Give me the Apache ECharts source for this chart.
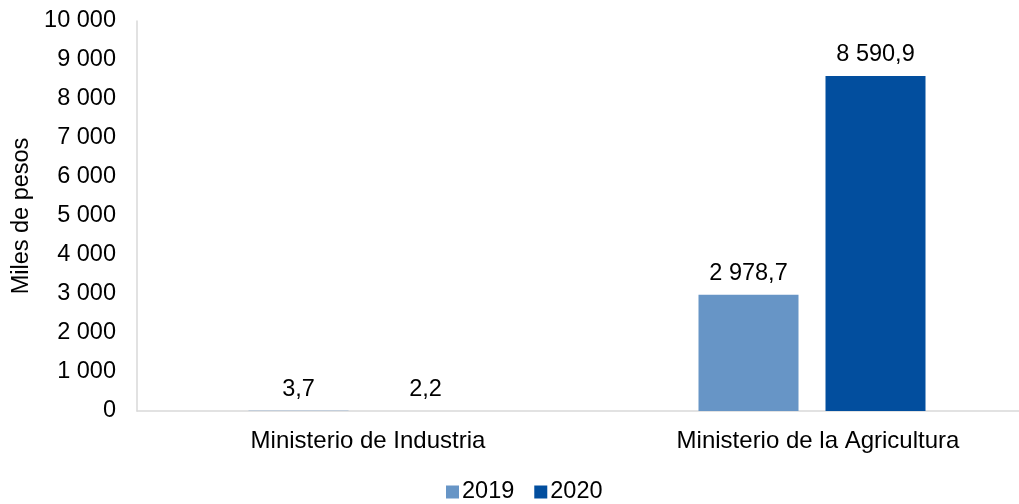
<!DOCTYPE html>
<html><head><meta charset="utf-8">
<script src="https://cdn.jsdelivr.net/npm/echarts@6/dist/echarts.min.js"></script>
<style>html,body{margin:0;padding:0;background:#fff;overflow:hidden;width:1019px;height:504px}#c{width:1040px;height:504px}</style>
</head><body><div id="c"></div>
<script>
const categories = ['Ministerio de Industria', 'Ministerio de la Agricultura'];
const values2019 = [3.7, 2978.7];
const values2020 = [2.2, 8590.9];
const seriesNames = ['2019', '2020'];

function fmt(v, dec) {
  const neg = v < 0; v = Math.abs(v);
  let s = dec ? v.toFixed(dec) : String(Math.round(v));
  let [i, d] = s.split('.');
  i = i.replace(/\B(?=(\d{3})+(?!\d))/g, ' ');
  return (neg ? '-' : '') + i + (d ? ',' + d : '');
}
const font = 'Liberation Sans, Arial, sans-serif';
const FS = 23.5;
const chart = echarts.init(document.getElementById('c'));
const lbl = {show: true, position: 'top', distance: 9, color: '#000', fontSize: FS, fontFamily: font, formatter: p => fmt(p.value, 1)};
chart.setOption({
  animation: false,
  textStyle: {fontFamily: font},
  grid: {left: 137, top: 21, width: 900, height: 390, containLabel: false},
  legend: {bottom: -5, left: 441, itemWidth: 13, itemHeight: 13, itemGap: 20, icon: 'rect',
    textStyle: {fontSize: FS, color: '#000', fontFamily: font, padding: [0, 0, 0, -2]}, data: seriesNames},
  xAxis: {type: 'category', data: categories,
    axisLine: {lineStyle: {color: '#D9D9D9', width: 1.5}}, axisTick: {show: false},
    axisLabel: {fontSize: 24, color: '#000', margin: 18, fontFamily: font, padding: [0, 0, 0, 12]}},
  yAxis: {type: 'value', min: 0, max: 10000, interval: 1000,
    name: 'Miles de pesos', nameLocation: 'middle', nameGap: 99, nameRotate: 90,
    nameTextStyle: {fontSize: FS, color: '#000', fontFamily: font},
    axisLine: {show: true, lineStyle: {color: '#D9D9D9', width: 1.5}}, axisTick: {show: false},
    splitLine: {show: false},
    axisLabel: {fontSize: FS, color: '#000', margin: 21, fontFamily: font, formatter: v => fmt(v, 0)}},
  series: [
    {name: seriesNames[0], type: 'bar', data: values2019, barWidth: 100, barGap: '27%', itemStyle: {color: '#6795C6'}, label: lbl},
    {name: seriesNames[1], type: 'bar', data: values2020, barWidth: 100, barGap: '27%', itemStyle: {color: '#024E9E'}, label: lbl}
  ]
});
</script></body></html>
